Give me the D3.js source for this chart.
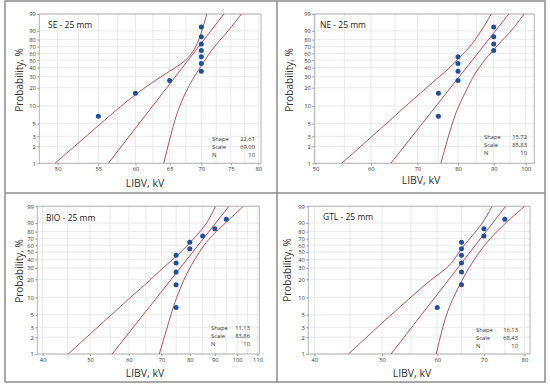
<!DOCTYPE html>
<html>
<head>
<meta charset="utf-8">
<script src="https://cdn.jsdelivr.net/npm/d3@7"></script>
<style>
  body { margin: 0; background: #fff; }
  svg { display: block; font-family: "Open Sans", "Noto Sans", sans-serif; }
</style>
</head>
<body>
<svg width="550" height="386"></svg>
<script>
// panel titles
const titles = ["SE - 25 mm", "NE - 25 mm", "BIO - 25 mm", "GTL - 25 mm"];

// LIBV per sample (kV), sorted
const seLIBV  = [55, 60, 65, 70, 70, 70, 70, 70, 70, 70];
const neLIBV  = [75, 75, 80, 80, 80, 80, 90, 90, 90, 90];
const bioLIBV = [75, 75, 75, 75, 75, 80, 80, 85, 90, 95];
const gtlLIBV = [60, 65, 65, 65, 65, 65, 65, 70, 70, 75];

// plotting position of each point (%)
const rankPct = [6.7, 16.3, 26.0, 35.6, 45.2, 54.8, 64.4, 74.0, 83.7, 93.3];

// fitted Weibull parameters
const shape = [22.61, 15.72, 11.13, 16.13];
const scale = [69.00, 85.83, 83.86, 68.43];
const nObs  = [10, 10, 10, 10];

// fitted line ends (kV at 1% and at 99%)
const fitAt1  = [56.3, 64.1, 55.5, 51.5];
const fitAt99 = [73.8, 94.6, 96.2, 75.2];

// confidence bands: [kV, %]
const seLower = [[49.7, 1], [55.3, 5], [58.0, 10], [60.2, 16.3], [62.8, 26], [65.9, 40], [67.6, 50], [68.9, 65], [69.9, 85], [70.9, 99]];
const seUpper = [[64.1, 1], [65.6, 5], [66.5, 10], [67.8, 20], [68.9, 30], [69.8, 40], [70.6, 50], [72.1, 70], [74.6, 90], [76.9, 99]];
const neLower = [[54.5, 1], [63.2, 5], [67.3, 10], [72.1, 20], [75.3, 30], [78.0, 40], [80.5, 55], [83.4, 70], [86.4, 90], [89.3, 99]];
const neUpper = [[75.6, 1], [78.4, 5], [80.1, 10], [82.6, 20], [84.1, 30], [85.8, 40], [87.3, 50], [89.7, 64], [92.7, 80], [95.5, 90], [99.5, 99]];
const bioLower = [[45.1, 1], [55.3, 5], [60.5, 10], [66.7, 20], [70.4, 30], [75.5, 45], [80.2, 64], [83.9, 80], [86.9, 90], [90.3, 99]];
const bioUpper = [[69.3, 1], [73.2, 5], [75.1, 10], [77.9, 20], [79.9, 30], [83.6, 50], [87.6, 70], [90.6, 80], [94.6, 90], [103.0, 99]];
const gtlLower = [[44.75, 1], [51.5, 5], [55.0, 10], [58.8, 20], [62.1, 30], [63.5, 40], [65.0, 55], [66.8, 70], [69.8, 90], [71.9, 99]];
const gtlUpper = [[59.8, 1], [61.7, 5], [63.3, 10], [65.2, 20], [66.6, 30], [68.9, 50], [71.4, 70], [75.1, 90], [80.1, 99]];

// axis ticks
const probTicks = [1, 2, 3, 5, 10, 20, 30, 40, 50, 60, 70, 80, 90, 99];
const seTicks  = [50, 55, 60, 65, 70, 75, 80];
const neTicks  = [50, 60, 70, 80, 90, 100];
const bioTicks = [40, 50, 60, 70, 80, 90, 100, 110];
const gtlTicks = [40, 50, 60, 70, 80];

const samples = [seLIBV, neLIBV, bioLIBV, gtlLIBV];
const lowers = [seLower, neLower, bioLower, gtlLower];
const uppers = [seUpper, neUpper, bioUpper, gtlUpper];
const xTicks = [seTicks, neTicks, bioTicks, gtlTicks];
const xDomains = [[47.9, 80.5], [49.8, 102.9], [39, 111], [39.2, 81.5]];

// where each panel sits
const boxes = [
  {x0: 39.3, x1: 261, y0: 14, y1: 163.3, lab: [48, 27.5], st: [212, 255, 140.5], xt: [145, 187], yt: [19, 80]},
  {x0: 314.3, x1: 534.3, y0: 14, y1: 163.3, lab: [320, 27.5], st: [484, 527, 138.7], xt: [421, 184], yt: [289, 80]},
  {x0: 37.3, x1: 259.3, y0: 206.3, y1: 354, lab: [46, 220.5], st: [211, 250, 330], xt: [145, 377], yt: [19, 271]},
  {x0: 308.3, x1: 530, y0: 206.3, y1: 354, lab: [323, 219.5], st: [476, 518, 331.5], xt: [412, 377], yt: [287, 270]}
];

const lineCol = "#bd4d50", dotCol = "#1d4f9e", gridCol = "#e4e4e4";

// Weibull probability transform
const wb = p => Math.log(-Math.log(1 - p / 100));
const comma = v => d3.format(".2f")(v).replace(".", ",");

let svg = d3.select("svg");

// outer frame + dividers
svg.append("rect").attr("x", 5).attr("y", 1).attr("width", 540).attr("height", 381)
  .attr("fill", "none").attr("stroke", "#8c8c8c").attr("stroke-width", 1.5);
svg.append("line").attr("x1", 277).attr("x2", 277).attr("y1", 1).attr("y2", 382)
  .attr("stroke", "#8c8c8c").attr("stroke-width", 1.5);
svg.append("line").attr("x1", 5).attr("x2", 545).attr("y1", 193).attr("y2", 193)
  .attr("stroke", "#8c8c8c").attr("stroke-width", 1.5);

boxes.forEach((b, k) => {
  let g = svg.append("g");

  let x = d3.scaleLog().domain(xDomains[k]).range([b.x0, b.x1]);
  let y = d3.scaleLinear().domain([wb(1), wb(99)]).range([b.y1, b.y0]);

  // grid: minor verticals halfway between ticks
  let minors = d3.pairs(xTicks[k], (a, c) => (a + c) / 2);
  g.selectAll(".vg").data(xTicks[k].concat(minors)).enter().append("line")
    .attr("x1", d => x(d)).attr("x2", d => x(d))
    .attr("y1", b.y0).attr("y2", b.y1)
    .attr("stroke", gridCol).attr("stroke-width", 0.8);
  g.selectAll(".hg").data(probTicks).enter().append("line")
    .attr("x1", b.x0).attr("x2", b.x1)
    .attr("y1", d => y(wb(d))).attr("y2", d => y(wb(d)))
    .attr("stroke", gridCol).attr("stroke-width", 0.8);

  // frame
  g.append("rect").attr("x", b.x0).attr("y", b.y0)
    .attr("width", b.x1 - b.x0).attr("height", b.y1 - b.y0)
    .attr("fill", "none").attr("stroke", "#b4b4b4").attr("stroke-width", 1);

  // axes
  let xa = g.append("g").attr("transform", "translate(0," + b.y1 + ")")
    .call(d3.axisBottom(x).tickValues(xTicks[k]).tickFormat(d3.format("d")).tickSize(2).tickPadding(2));
  let ya = g.append("g").attr("transform", "translate(" + b.x0 + ",0)")
    .call(d3.axisLeft(y).tickValues(probTicks.map(wb)).tickFormat((d, i) => probTicks[i]).tickSize(2).tickPadding(1.5));
  [xa, ya].forEach(a => {
    a.select(".domain").remove();
    a.selectAll("line").attr("stroke", "#999");
    a.selectAll("text").attr("font-size", 5.8).attr("fill", "#333").attr("font-family", "Open Sans");
  });

  // clip for curves
  let clipId = "clip" + k;
  g.append("clipPath").attr("id", clipId).append("rect")
    .attr("x", b.x0).attr("y", b.y0).attr("width", b.x1 - b.x0).attr("height", b.y1 - b.y0);

  let curve = d3.line()
    .x(d => x(d[0]))
    .y(d => y(wb(d[1])))
    .curve(d3.curveBasis);

  let paths = [lowers[k], [[fitAt1[k], 1], [fitAt99[k], 99]], uppers[k]];
  g.append("g").attr("clip-path", "url(#" + clipId + ")")
    .selectAll("path").data(paths).enter().append("path")
    .attr("d", curve)
    .attr("fill", "none").attr("stroke", lineCol).attr("stroke-width", 1);

  // points
  g.selectAll(".pt").data(samples[k]).enter().append("circle")
    .attr("cx", d => x(d))
    .attr("cy", (d, i) => y(wb(rankPct[i])))
    .attr("r", 2.5)
    .attr("fill", dotCol);

  // labels
  g.append("text").attr("x", b.lab[0]).attr("y", b.lab[1])
    .attr("font-size", 8.5).attr("fill", "#222").text(titles[k]);

  let stats = [["Shape", comma(shape[k])], ["Scale", comma(scale[k])], ["N", nObs[k]]];
  stats.forEach((s, i) => {
    g.append("text").attr("x", b.st[0]).attr("y", b.st[2] + i * 8)
      .attr("font-size", 5.8).attr("fill", "#333").text(s[0]);
    g.append("text").attr("x", b.st[1]).attr("y", b.st[2] + i * 8)
      .attr("font-size", 5.8).attr("fill", "#333").attr("text-anchor", "end").text(s[1]);
  });

  g.append("text").attr("x", b.xt[0]).attr("y", b.xt[1])
    .attr("text-anchor", "middle").attr("font-size", 10.5).attr("fill", "#333").text("LIBV, kV");
  g.append("text")
    .attr("transform", "translate(" + b.yt[0] + "," + b.yt[1] + ") rotate(-90)")
    .attr("text-anchor", "middle").attr("dominant-baseline", "central")
    .attr("font-size", 10).attr("fill", "#333").text("Probability, %");
});
</script>
</body>
</html>
